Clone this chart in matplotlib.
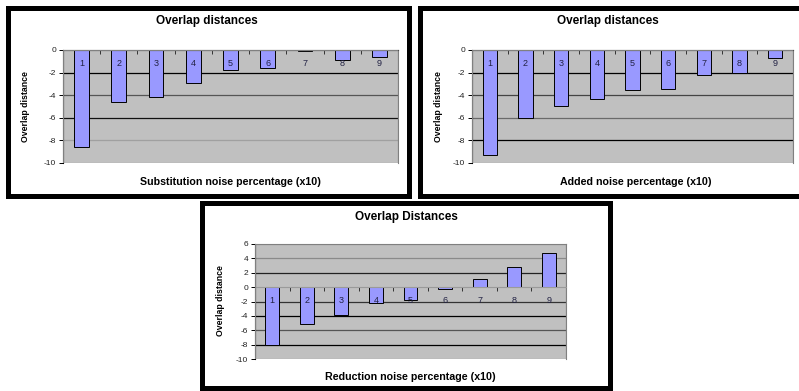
import numpy as np
import matplotlib.pyplot as plt
from matplotlib.patches import Rectangle

plt.rcParams['font.family'] = ['Liberation Sans', 'DejaVu Sans']

# data
categories = [1, 2, 3, 4, 5, 6, 7, 8, 9]
substitution_vals = [-8.6, -4.6, -4.2, -2.95, -1.8, -1.55, -0.1, -0.9, -0.65]
added_vals = [-9.3, -6.0, -5.0, -4.35, -3.55, -3.45, -2.2, -2.0, -0.75]
reduction_vals = [-8.0, -5.1, -3.85, -2.15, -1.8, -0.25, 1.1, 2.8, 4.7]

titles = ["Overlap distances", "Overlap distances", "Overlap Distances"]
xlabels = ["Substitution noise percentage (x10)",
           "Added noise percentage (x10)",
           "Reduction noise percentage (x10)"]
ylabel = "Overlap distance"

W, H = 799, 391
fig = plt.figure(figsize=(W / 100, H / 100), dpi=100)


def px(x, y):
    return x / W, 1 - y / H


def axes_px(x0, y0, x1, y1):
    return fig.add_axes([x0 / W, 1 - y1 / H, (x1 - x0) / W, (y1 - y0) / H])


# white boxes with thick black frames
bg = fig.add_axes([0, 0, 1, 1])
bg.set_zorder(-1)
bg.set_xlim(0, W)
bg.set_ylim(H, 0)
bg.axis('off')
for (x0, y0, x1, y1) in [(7.5, 7.5, 408.5, 195.5),
                         (419.5, 7.5, 810, 195.5),
                         (201.5, 203, 609.5, 388)]:
    bg.add_patch(Rectangle((x0, y0), x1 - x0, y1 - y0, facecolor='white',
                           edgecolor='black', lw=3.6))


def draw_panel(box, vals, ylo, yhi, grid_colors, zero_color,
               title, title_xy, xlabel, xlabel_xy, ylabel_xy):
    ax = axes_px(*box)
    ax.set_facecolor('#C0C0C0')
    ax.bar(categories, vals, width=0.4, color='#9999FF',
           edgecolor='black', lw=0.7, zorder=3)
    ax.set_xlim(0.5, 9.5)
    ax.set_ylim(ylo, yhi)
    yt = np.arange(ylo, yhi + 1, 2)
    ax.set_yticks(yt)
    ax.set_yticklabels([str(int(v)) for v in yt], fontsize=6, color='#222222')
    ax.tick_params(axis='y', direction='out', length=3, width=0.7,
                   color='black', pad=2)
    # gridlines (each one drawn with the shade seen in the picture)
    for v, c in grid_colors.items():
        ax.axhline(v, color=c, lw=0.9, zorder=1)
    for s in ['top', 'right']:
        ax.spines[s].set_color('#808080')
        ax.spines[s].set_linewidth(0.8)
    ax.spines['left'].set_color('black')
    ax.spines['left'].set_linewidth(0.8)
    # category axis sits at zero
    ax.spines['bottom'].set_position(('data', 0))
    ax.spines['bottom'].set_color(zero_color)
    ax.spines['bottom'].set_linewidth(0.8)
    ax.spines['bottom'].set_zorder(4)
    ax.set_xticks(np.arange(1.5, 9.5, 1))
    ax.set_xticklabels([])
    ax.tick_params(axis='x', direction='out', length=3, width=0.7,
                   color='#333333')
    ax.add_patch(Rectangle((0, 0), 1, 1, transform=ax.transAxes, fill=False,
                           edgecolor='#808080', lw=0.8, zorder=5))
    for c in categories:
        ax.annotate(str(c), (c, 0), xytext=(0, -9.5), textcoords='offset points',
                    ha='center', va='center', fontsize=6.5, color='#222244',
                    zorder=6)
    fig.text(*px(*title_xy), title, ha='center', va='center',
             fontsize=8.5, fontweight='bold')
    fig.text(*px(*xlabel_xy), xlabel, ha='center', va='center',
             fontsize=7.7, fontweight='bold')
    fig.text(*px(*ylabel_xy), ylabel, ha='center', va='center',
             fontsize=6.3, fontweight='bold', rotation=90)
    return ax


draw_panel((63, 50, 398, 163), substitution_vals, -10, 0,
           {-2: '#000000', -4: '#555555', -6: '#111111', -8: '#A0A0A0'},
           '#505050', titles[0], (207, 21), xlabels[0], (230, 182), (25, 107))
draw_panel((472, 50, 793, 163), added_vals, -10, 0,
           {-2: '#000000', -4: '#444444', -6: '#6A6A6A', -8: '#000000'},
           '#505050', titles[1], (608, 21), xlabels[1], (636, 182), (438, 107))
draw_panel((255, 244, 566, 359), reduction_vals, -10, 6,
           {4: '#8A8A8A', 2: '#222222', -2: '#333333', -4: '#000000',
            -6: '#555555', -8: '#000000'},
           '#9A9A9A', titles[2], (406, 217), xlabels[2], (410, 377), (220, 301))

plt.savefig('out.png', dpi=100)
